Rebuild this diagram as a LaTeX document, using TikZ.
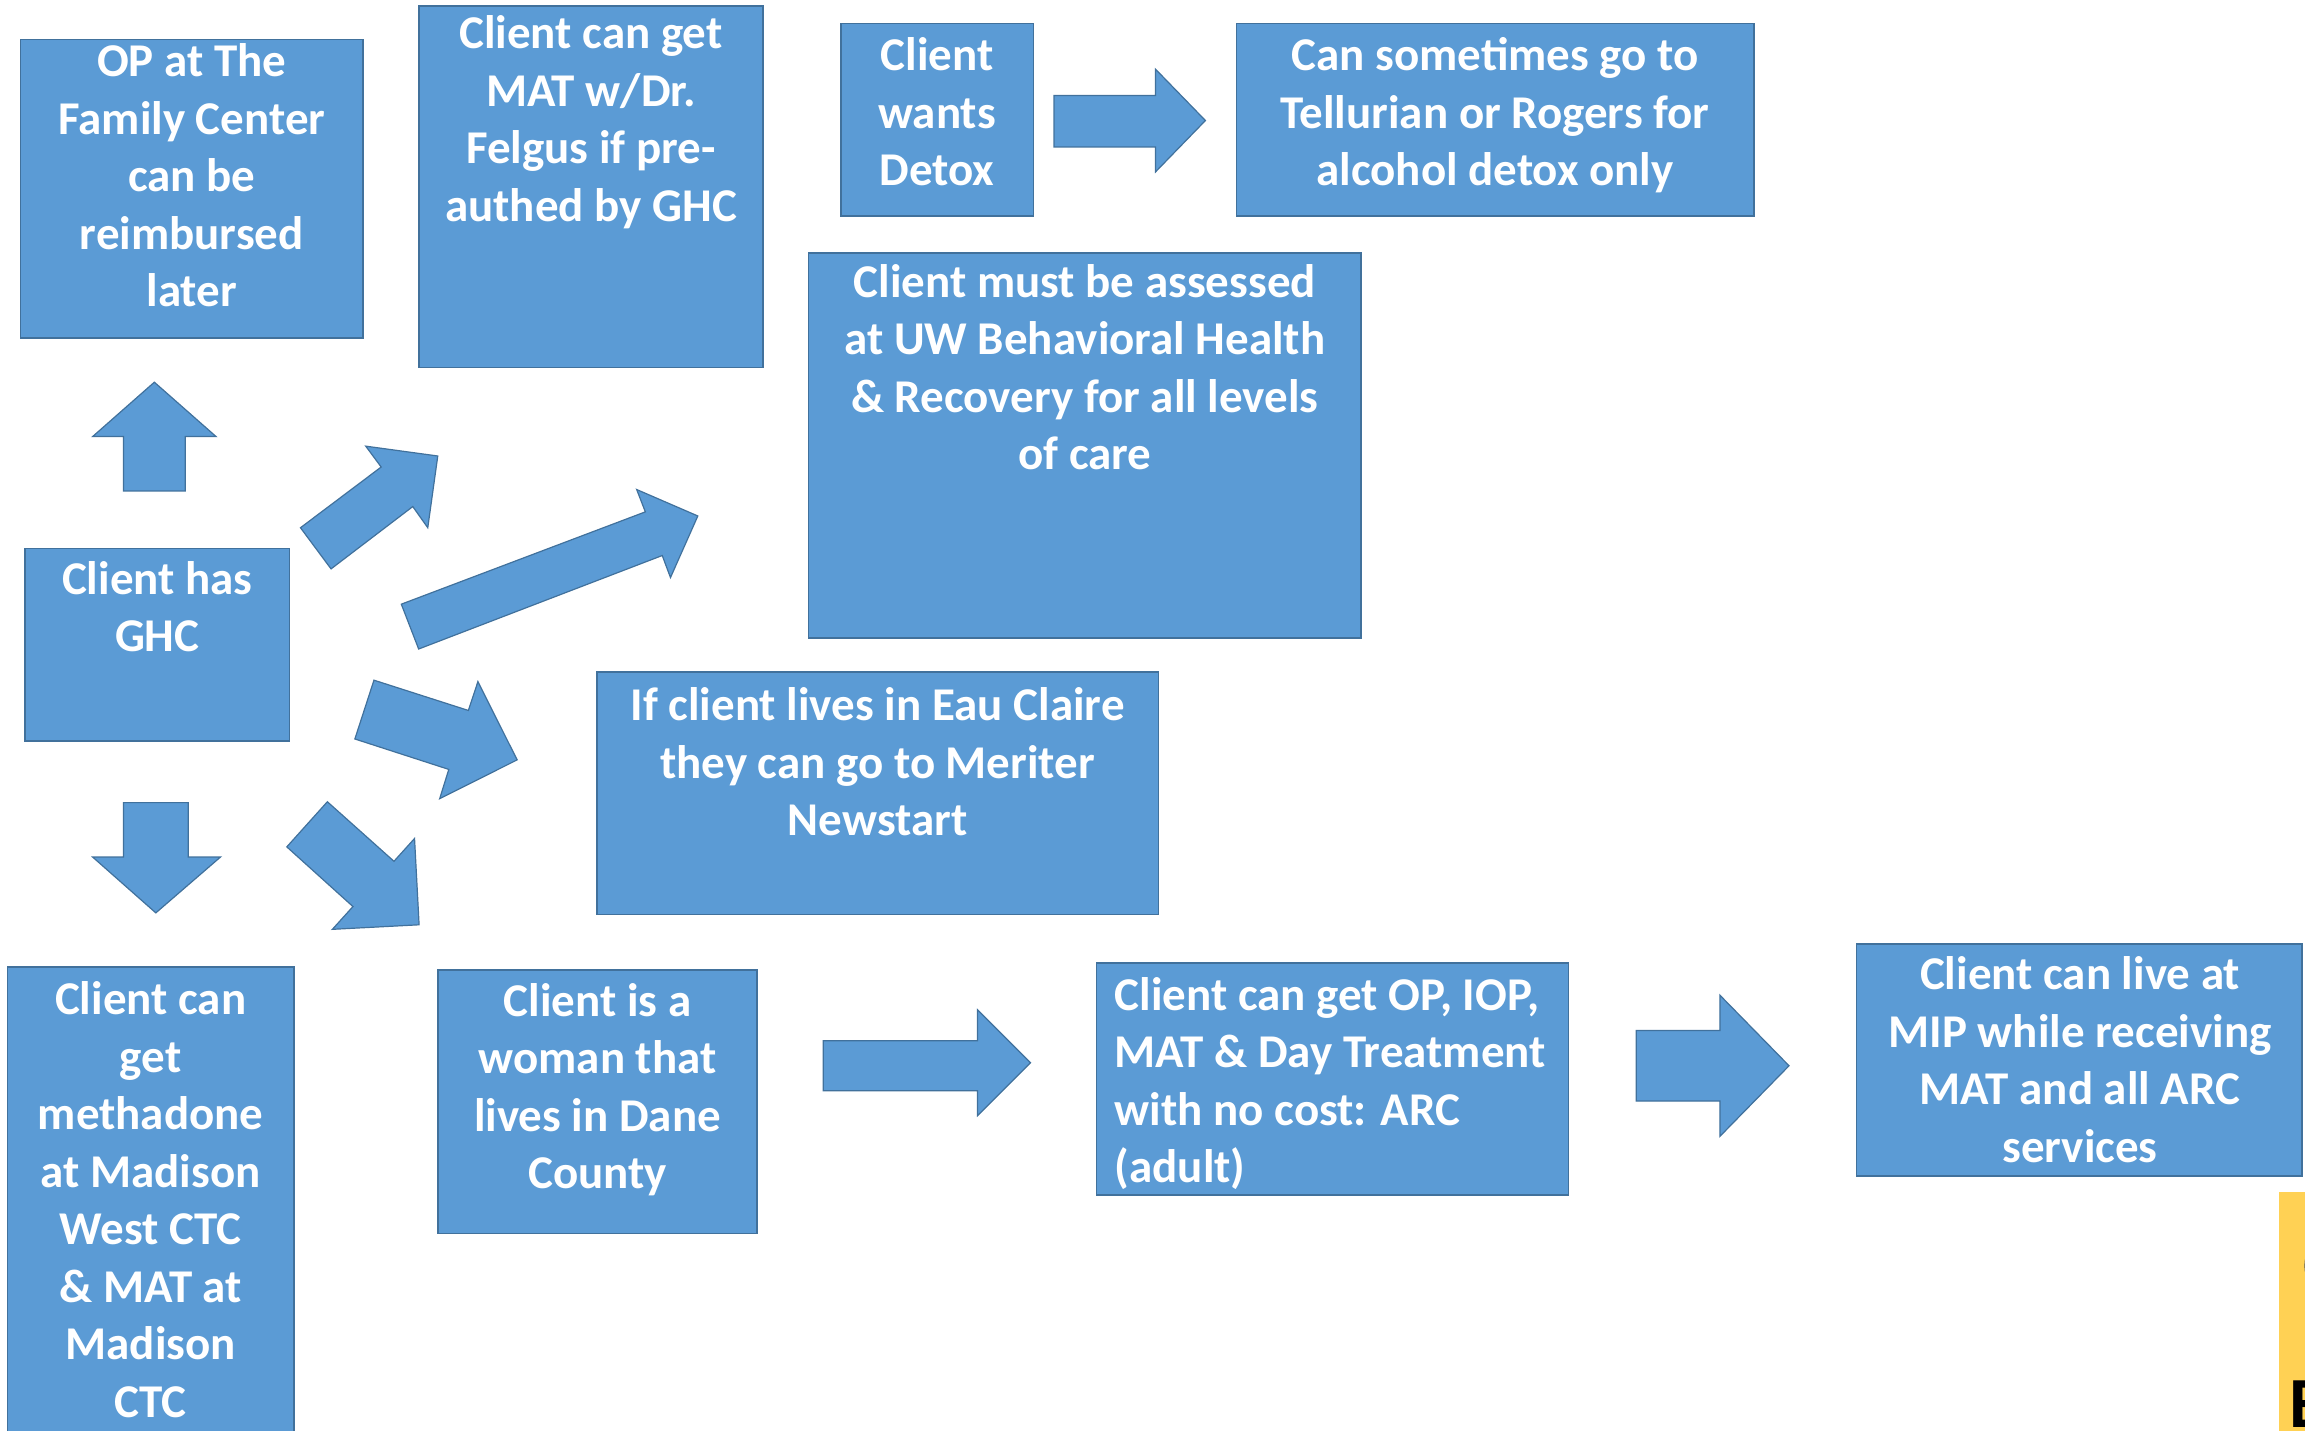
\documentclass[tikz,border=0pt]{standalone}
\usepackage{fontspec}
\setmainfont{Carlito}
\definecolor{boxfill}{HTML}{5B9BD5}
\definecolor{boxline}{HTML}{41719C}
\definecolor{logoyellow}{HTML}{FFD154}
\newcommand{\fl}{\rule{0pt}{20pt}}
\tikzset{
  bx/.style={fill=boxfill, draw=boxline, line width=0.8pt},
  arr/.style={fill=boxfill, draw=boxline, line width=0.6pt, line join=miter},
  txt/.style={text=white, font=\bfseries\fontsize{23.5}{28.75}\selectfont, align=center, inner sep=0pt, anchor=north},
  txtl/.style={txt, align=left, anchor=north west}
}
\begin{document}
\begin{tikzpicture}[x=0.735pt, y=-0.735pt]
\useasboundingbox (0,0) rectangle (1568,973);
% boxes
\draw[bx] (14,27) rectangle (247,230);
\node[txt] (optext) at (130.5,24.8) {\fl OP at The\\Family Center\\can be\\reimbursed\\later};

\draw[bx] (285,4) rectangle (519,250);
\node[txt] (mat) at (402,5.8) {\fl Client can get\\MAT w/Dr.\\Felgus if pre-\\authed by GHC};

\draw[bx] (572,16) rectangle (703,147);
\node[txt] (detox) at (637.5,20.8) {\fl Client\\wants\\Detox};

\draw[bx] (841,16) rectangle (1193,147);
\node[txt] (tell) at (1017,20.8) {\fl Can sometimes go to\\Tellurian or Rogers for\\alcohol detox only};

\draw[bx] (550,172) rectangle (926,434);
\node[txt] (uw) at (738,174.8) {\fl Client must be assessed\\at UW Behavioral Health\\\& Recovery for all levels\\of care};

\draw[bx] (17,373) rectangle (197,504);
\node[txt] (ghc) at (107,376.8) {\fl Client has\\GHC};

\draw[bx] (406,457) rectangle (788,622);
\node[txt] (eau) at (597,462.8) {\fl If client lives in Eau Claire\\they can go to Meriter\\Newstart};

\draw[bx] (5,658) rectangle (200,990);
\node[txt] (meth) at (102.5,662.8) {\fl Client can\\get\\methadone\\at Madison\\West CTC\\\& MAT at\\Madison\\CTC};

\draw[bx] (298,660) rectangle (515,839);
\node[txt] (woman) at (406.5,663.8) {\fl Client is a\\woman that\\lives in Dane\\County};

\draw[bx] (746,655) rectangle (1067,813);
\node[txtl] (arc) at (758,659.8) {\fl Client can get OP, IOP,\\MAT \& Day Treatment\\with no cost: ARC\\(adult)};

\draw[bx] (1263,642) rectangle (1566,800);
\node[txt] (mip) at (1415,645.8) {\fl Client can live at\\MIP while receiving\\MAT and all ARC\\services};

% block arrows
\draw[arr] (84,334) -- (84,297) -- (63,297) -- (105,260) -- (147,297) -- (126,297) -- (126,334) -- cycle;
\draw[arr] (84,546) -- (128,546) -- (128,583) -- (150,583) -- (106,621) -- (63,583) -- (84,583) -- cycle;
\draw[arr] (204.4,359.0) -- (259.3,317.7) -- (248.8,303.5) -- (297.8,310.2) -- (291.0,359.0) -- (280.8,344.6) -- (225.2,387.0) -- cycle;
\draw[arr] (273.0,411.0) -- (439.0,348.2) -- (433.1,333.0) -- (474.7,351.0) -- (456.1,392.9) -- (450.5,377.9) -- (284.8,441.5) -- cycle;
\draw[arr] (254.4,462.7) -- (318.6,483.3) -- (325.1,463.7) -- (351.8,516.9) -- (299.1,543.3) -- (305.3,523.4) -- (241.4,502.7) -- cycle;
\draw[arr] (222.7,545.4) -- (268.0,585.9) -- (282.0,570.4) -- (285.1,629.1) -- (226.1,632.2) -- (240.1,616.7) -- (195.1,576.1) -- cycle;
\draw[arr] (717,65) -- (786,65) -- (786,47) -- (820,82) -- (786,117) -- (786,100) -- (717,100) -- cycle;
\draw[arr] (560,708) -- (665,708) -- (665,687) -- (701,723) -- (665,759) -- (665,742) -- (560,742) -- cycle;
\draw[arr] (1113,701) -- (1170,701) -- (1170,677) -- (1217,725) -- (1170,773) -- (1170,749) -- (1113,749) -- cycle;

% cut-off logo at bottom right
\begin{scope}
\clip (0,0) rectangle (1568,973);
\fill[logoyellow] (1550,811) rectangle (1580,990);
\draw[gray!70!black, line width=2.2pt] (1572,872) arc[start angle=150, end angle=210, radius=22];
\node[anchor=base west, inner sep=0pt, font=\bfseries\fontsize{36}{40}\selectfont, text=black] (logoe) at (1557,971) {E};
\end{scope}
\end{tikzpicture}
\end{document}
